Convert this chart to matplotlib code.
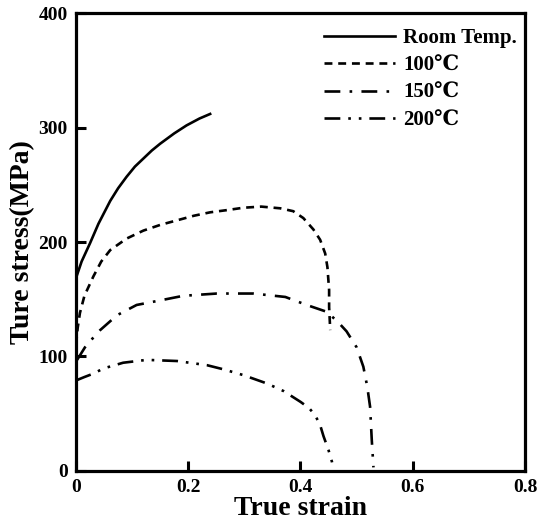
import matplotlib
matplotlib.use("Agg")
import matplotlib.pyplot as plt

plt.rcParams['font.family'] = ['Liberation Serif', 'DejaVu Serif', 'Noto Sans CJK SC']
plt.rcParams['font.weight'] = 'bold'

# Data
room_strain = [0.0, 0.001, 0.01, 0.025, 0.04, 0.061, 0.075, 0.09, 0.105, 0.12, 0.135, 0.15, 0.175, 0.197, 0.22, 0.239]
room_stress = [160, 170, 183, 199, 216, 236, 247, 257, 266, 273, 280, 286, 295, 302, 308, 312]

t100_strain = [0.0, 0.003, 0.007, 0.015, 0.031, 0.045, 0.061, 0.09, 0.12, 0.15, 0.18, 0.21, 0.239, 0.27, 0.298, 0.33,
               0.364, 0.387, 0.405, 0.423, 0.435, 0.444, 0.448, 0.451, 0.451, 0.453]
t100_stress = [110, 125, 138, 153, 170, 183, 193, 203, 210, 215, 219, 223, 226, 228, 230, 231,
               229.5, 227, 221, 211, 202, 190, 178, 158, 143, 123]

t150_strain = [0.002, 0.016, 0.03, 0.043, 0.073, 0.108, 0.15, 0.191, 0.251, 0.316, 0.373, 0.411, 0.447, 0.467, 0.482,
               0.50, 0.512, 0.519, 0.524, 0.527, 0.53]
t150_stress = [97, 108, 116, 123, 136, 145, 149, 153, 155, 155, 152, 145, 139, 130, 122,
               108, 91, 73.5, 56, 27, 3]

t200_strain = [0.0, 0.015, 0.031, 0.049, 0.084, 0.126, 0.18, 0.233, 0.263, 0.298, 0.34, 0.37, 0.40, 0.415, 0.426,
               0.435, 0.441, 0.45, 0.456, 0.458]
t200_stress = [79, 82, 85, 89.5, 94.5, 97, 96, 92.4, 88.7, 83.7, 76.4, 69.7, 60.3, 55, 48.7,
               40, 30.3, 18, 8, 3]

labels = ['Room Temp.', '100\u2103', '150\u2103', '200\u2103']
xticks = [0, 0.2, 0.4, 0.6, 0.8]
xtick_labels = ['0', '0.2', '0.4', '0.6', '0.8']
yticks = [0, 100, 200, 300, 400]

fig = plt.figure(figsize=(5.39, 5.32), dpi=100)
ax = fig.add_axes([0.141, 0.115, 0.833, 0.86])

lw = 1.9
ax.plot(room_strain, room_stress, color='black', lw=lw, linestyle='-', label=labels[0])
ax.plot(t100_strain, t100_stress, color='black', lw=lw, linestyle=(0, (3, 2.2)), label=labels[1])
ax.plot(t150_strain, t150_stress, color='black', lw=lw, linestyle=(0, (6, 3.5, 1, 3.5)), label=labels[2])
ax.plot(t200_strain, t200_stress, color='black', lw=lw, linestyle=(0, (6, 3, 1, 3, 1, 3)), label=labels[3])

ax.set_xlim(0, 0.8)
ax.set_ylim(0, 400)
ax.set_xticks(xticks)
ax.set_xticklabels(xtick_labels)
ax.set_yticks(yticks)
ax.tick_params(direction='in', length=7, width=2.2, labelsize=14, pad=6)
for lab in ax.get_xticklabels() + ax.get_yticklabels():
    lab.set_fontweight('bold')
for s in ax.spines.values():
    s.set_linewidth(2.3)

ax.set_xlabel('True strain', fontsize=20, fontweight='bold', labelpad=0)
ax.set_ylabel('Ture stress(MPa)', fontsize=20, fontweight='bold', labelpad=2)

leg = ax.legend(loc='upper right', bbox_to_anchor=(0.982, 0.968), frameon=False, fontsize=15,
                handlelength=3.4, handletextpad=0.4, labelspacing=0.36, borderaxespad=0, borderpad=0)
for t in leg.get_texts():
    t.set_fontweight('bold')

fig.savefig('out.png', dpi=100)
